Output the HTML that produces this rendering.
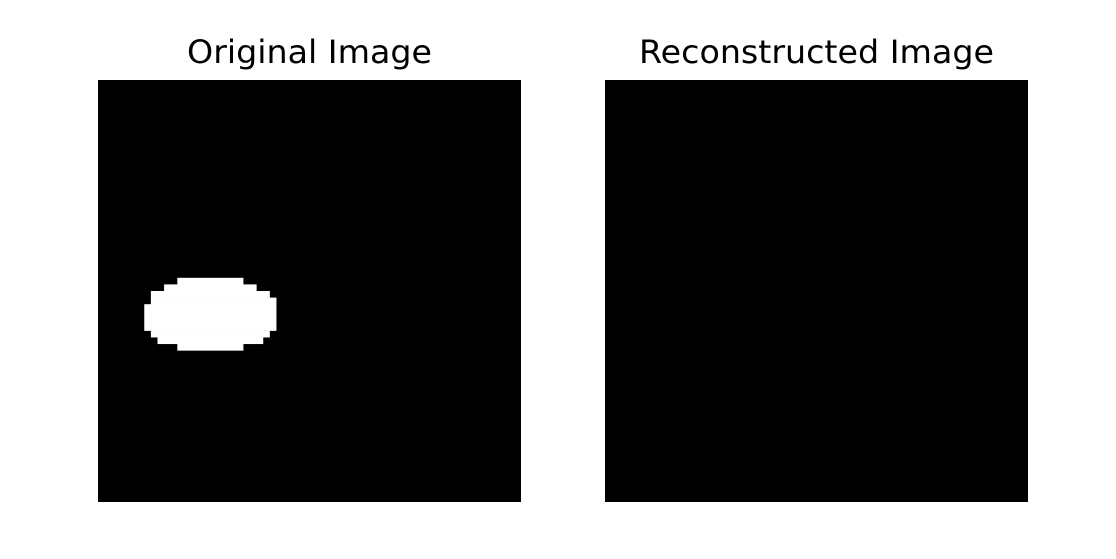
<!DOCTYPE html>
<html><head><meta charset="utf-8"><style>html,body{margin:0;padding:0;background:#fff}</style></head>
<body>
<svg id="fig" width="1116" height="554" xmlns="http://www.w3.org/2000/svg">
<rect width="1116" height="554" fill="#fff"/>
<text x="309.5" y="63" text-anchor="middle" font-family="DejaVu Sans, Liberation Sans, sans-serif" font-size="32" textLength="245" lengthAdjust="spacingAndGlyphs" fill="#000">Original Image</text>
<text x="816.5" y="63" text-anchor="middle" font-family="DejaVu Sans, Liberation Sans, sans-serif" font-size="32" textLength="355" lengthAdjust="spacingAndGlyphs" fill="#000">Reconstructed Image</text>
<rect x="98" y="80" width="423" height="422" fill="#000"/>
<rect x="605" y="80" width="423" height="422" fill="#000"/>
<g id="blob"></g>
</svg>
<script>
// rows of the 64x64 mask that contain white pixels: [row, startCol, endColExclusive]
const maskRows = [30,31,32,33,34,35,36,37,38,39,40];
const maskStart = [12,10,8,8,7,7,7,7,8,9,12];
const maskEnd = [22,24,26,27,27,27,27,27,26,25,22];
const gridN = 64;
const x0 = 98, y0 = 80, W = 423, H = 422;
const cw = W / gridN, ch = H / gridN;
const g = document.getElementById('blob');
for (let i = 0; i < maskRows.length; i++) {
  const r = document.createElementNS('http://www.w3.org/2000/svg', 'rect');
  r.setAttribute('x', x0 + maskStart[i] * cw);
  r.setAttribute('y', y0 + maskRows[i] * ch);
  r.setAttribute('width', (maskEnd[i] - maskStart[i]) * cw);
  r.setAttribute('height', ch + 0.3);
  r.setAttribute('fill', '#fff');
  
  
  g.appendChild(r);
}
</script>
</body></html>
